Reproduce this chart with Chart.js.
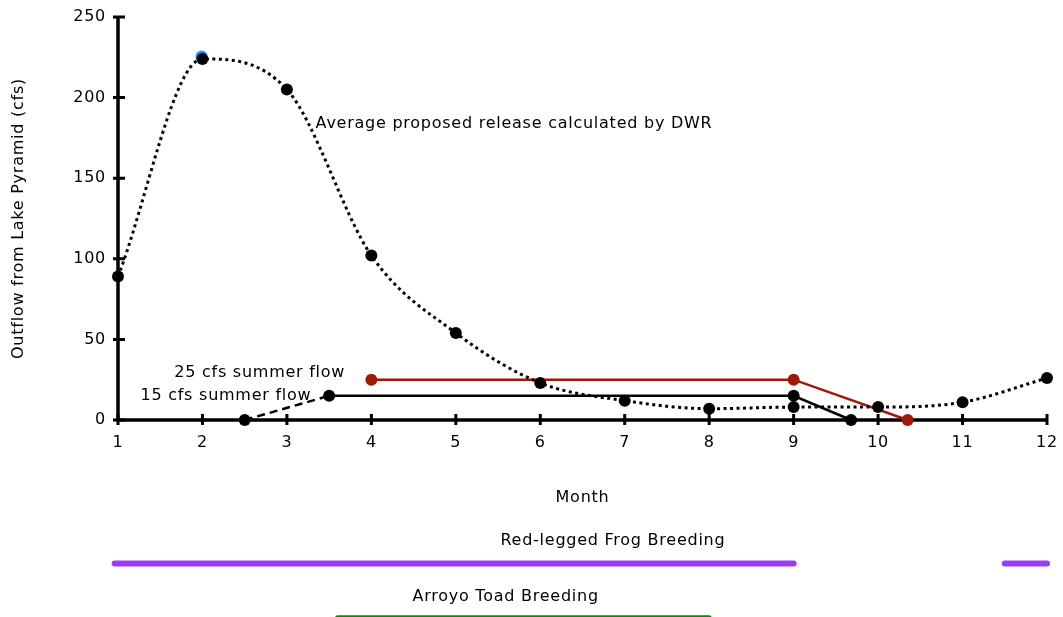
<!DOCTYPE html>
<html>
<head>
<meta charset="utf-8">
<script src="https://cdn.jsdelivr.net/npm/chart.js@4.4.0/dist/chart.umd.min.js"></script>
<style>
  html, body { margin: 0; padding: 0; background: #fff; }
  #wrap { width: 1063px; height: 617px; }
</style>
</head>
<body>
<div id="wrap"><canvas id="chart" width="1063" height="617"></canvas></div>
<script>
// values
const months = [1, 2, 3, 4, 5, 6, 7, 8, 9, 10, 11, 12];
const avgRelease = [89, 224, 205, 102, 54, 23, 12, 7, 8, 8, 11, 26];
const peakHighlightX = [1.99];
const peakHighlightY = [225.5];
const flow25X = [4, 9, 10.35];
const flow25Y = [25, 25, 0];
const flow15X = [2.5, 3.5, 9, 9.68];
const flow15Y = [0, 15, 15, 0];
const frogSpanA = [0.96, 9];
const frogSpanB = [11.5, 12];
const frogLevel = -89;
const toadSpan = [3.6, 8.0];
const toadLevel = -122.7;
const yTicks = [0, 50, 100, 150, 200, 250];

const FONT = '"DejaVu Sans", Verdana, sans-serif';
const SPACING = '0.75px';

function xy(xs, ys) {
  return xs.map((x, i) => ({ x: x, y: ys[i] }));
}
function span(xs, level) {
  return xs.map(x => ({ x: x, y: level }));
}
function noPad(s) {
  s.paddingTop = 0;
  s.paddingBottom = 0;
  s.paddingLeft = 0;
  s.paddingRight = 0;
}

// label text placed at data coords: [text, x, y, align]
const notes = [
  ['Average proposed release calculated by DWR', 3.34, 183.5, 'left'],
  ['25 cfs summer flow', 3.69, 29.2, 'right'],
  ['15 cfs summer flow', 3.29, 14.9, 'right'],
  ['Red-legged Frog Breeding', 6.86, -75.2, 'center'],
  ['Arroyo Toad Breeding', 5.59, -109.5, 'center']
];

const axesAndNotes = {
  id: 'axesAndNotes',
  beforeDraw(chart) {
    chart.ctx.letterSpacing = SPACING;
  },
  beforeDatasetsDraw(chart) {
    const ctx = chart.ctx;
    const xs = chart.scales.x, ys = chart.scales.y;
    const x0 = xs.getPixelForValue(1), x1 = xs.getPixelForValue(12);
    const y0 = ys.getPixelForValue(0), y1 = ys.getPixelForValue(250);
    ctx.save();
    ctx.strokeStyle = '#000';
    ctx.lineWidth = 3.5;
    ctx.lineCap = 'butt';
    ctx.beginPath();
    ctx.moveTo(x0, y0 + 1.5);
    ctx.lineTo(x0, y1 - 1);
    ctx.moveTo(x0 - 1.5, y0);
    ctx.lineTo(x1 + 1, y0);
    ctx.stroke();
    ctx.lineWidth = 3;
    ctx.beginPath();
    months.forEach(m => {
      const px = xs.getPixelForValue(m);
      ctx.moveTo(px, y0 - 6);
      ctx.lineTo(px, y0 + 5);
    });
    yTicks.forEach(v => {
      const py = ys.getPixelForValue(v);
      ctx.moveTo(x0 - 5, py);
      ctx.lineTo(x0 + 7, py);
    });
    ctx.stroke();

    // y axis title, centred on the 0..250 range
    ctx.fillStyle = '#000';
    ctx.font = '16px ' + FONT;
    ctx.letterSpacing = SPACING;
    ctx.textAlign = 'center';
    ctx.textBaseline = 'middle';
    ctx.translate(19, (y0 + y1) / 2);
    ctx.rotate(-Math.PI / 2);
    ctx.fillText('Outflow from Lake Pyramid (cfs)', 0, 0);
    ctx.restore();

    ctx.save();
    ctx.fillStyle = '#000';
    ctx.font = '16px ' + FONT;
    ctx.letterSpacing = SPACING;
    ctx.textBaseline = 'middle';
    notes.forEach(n => {
      ctx.textAlign = n[3];
      ctx.fillText(n[0], xs.getPixelForValue(n[1]), ys.getPixelForValue(n[2]));
    });
    ctx.restore();
  }
};

// first dataset ends up on top
new Chart(document.getElementById('chart'), {
  type: 'line',
  data: {
    datasets: [
      {
        label: 'Average proposed release calculated by DWR',
        data: xy(months, avgRelease),
        borderColor: '#000',
        borderWidth: 3,
        borderDash: [3, 3.5],
        cubicInterpolationMode: 'monotone',
        pointRadius: 6,
        pointBackgroundColor: '#000',
        pointBorderWidth: 0
      },
      {
        label: 'peak highlight',
        data: xy(peakHighlightX, peakHighlightY),
        showLine: false,
        pointRadius: 6,
        pointBackgroundColor: '#1e8fff',
        pointBorderWidth: 0
      },
      {
        label: '25 cfs summer flow',
        data: xy(flow25X, flow25Y),
        borderColor: '#9b1a0a',
        borderWidth: 2.5,
        tension: 0,
        pointRadius: 6,
        pointBackgroundColor: '#9b1a0a',
        pointBorderWidth: 0
      },
      {
        label: '15 cfs summer flow',
        data: xy(flow15X, flow15Y),
        borderColor: '#000',
        borderWidth: 2.5,
        tension: 0,
        pointRadius: 6,
        pointBackgroundColor: '#000',
        pointBorderWidth: 0,
        segment: {
          borderDash: c => c.p0DataIndex === 0 ? [8, 5] : undefined
        }
      },
      {
        label: 'Red-legged Frog Breeding',
        data: span(frogSpanA, frogLevel),
        borderColor: '#9a3cf5',
        borderWidth: 6,
        borderCapStyle: 'round',
        pointRadius: 0
      },
      {
        label: 'Red-legged Frog Breeding (late)',
        data: span(frogSpanB, frogLevel),
        borderColor: '#9a3cf5',
        borderWidth: 6,
        borderCapStyle: 'round',
        pointRadius: 0
      },
      {
        label: 'Arroyo Toad Breeding',
        data: span(toadSpan, toadLevel),
        borderColor: '#0a8a0a',
        borderWidth: 5,
        borderCapStyle: 'round',
        pointRadius: 0
      }
    ]
  },
  options: {
    responsive: false,
    animation: false,
    clip: false,
    layout: { padding: { top: 17, right: 16, bottom: 0, left: 0 } },
    plugins: {
      legend: { display: false },
      tooltip: { enabled: false }
    },
    scales: {
      x: {
        type: 'linear',
        min: 1,
        max: 12,
        position: { y: 0 },
        afterBuildTicks: s => { s.ticks = months.map(v => ({ value: v })); },
        afterFit: noPad,
        grid: { display: false },
        border: { display: false },
        ticks: { color: '#000', font: { family: FONT, size: 16 }, padding: 5, maxRotation: 0 },
        title: {
          display: true,
          text: 'Month',
          color: '#000',
          font: { family: FONT, size: 16 },
          padding: { top: 31 }
        }
      },
      y: {
        type: 'linear',
        min: -118.5,
        max: 250,
        afterBuildTicks: s => { s.ticks = yTicks.map(v => ({ value: v })); },
        afterFit: s => { s.width = 118; noPad(s); },
        grid: { display: false },
        border: { display: false },
        ticks: { color: '#000', font: { family: FONT, size: 16 }, padding: 4 }
      }
    }
  },
  plugins: [axesAndNotes]
});
</script>
</body>
</html>
